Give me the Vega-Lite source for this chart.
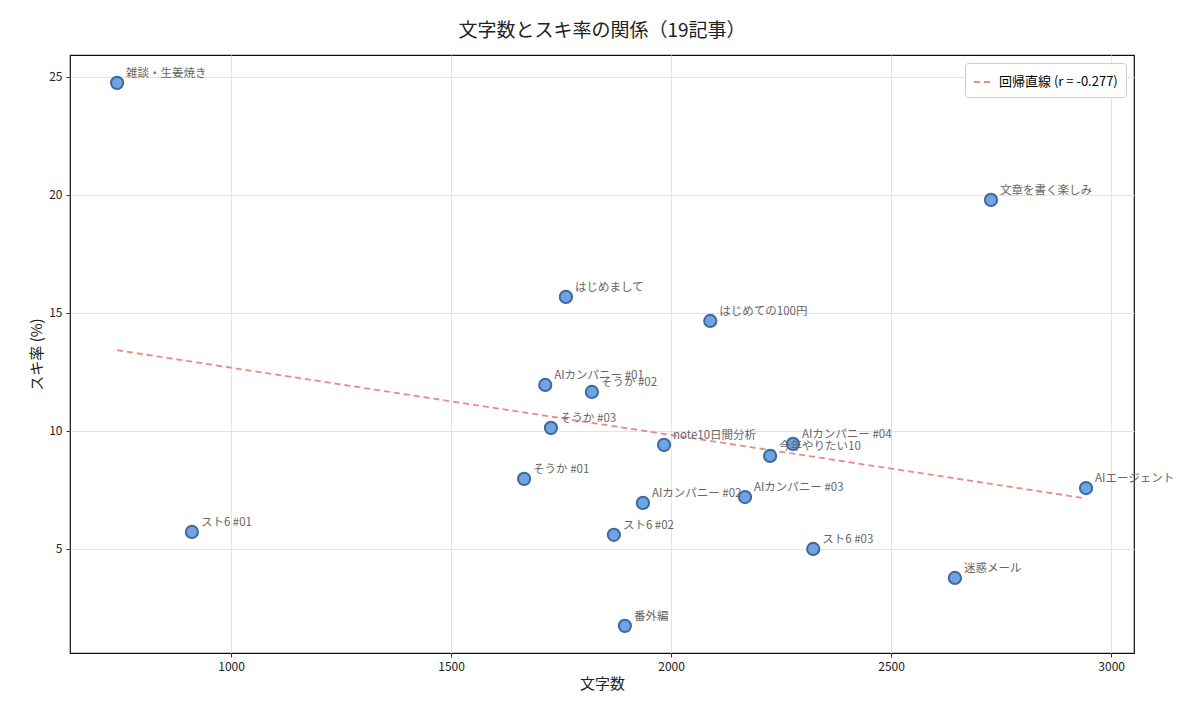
{
  "$schema": "https://vega.github.io/schema/vega-lite/v6.json",
  "width": 1064,
  "height": 598,
  "autosize": {"type": "none"},
  "padding": {"left": 70, "top": 55, "right": 66, "bottom": 65},
  "background": "white",
  "title": {"text": "文字数とスキ率の関係（19記事）", "fontSize": 19, "fontWeight": "normal", "font": "Noto Sans CJK JP", "offset": 14, "color": "#222"},
  "datasets": {
    "posts": [
      {"title": "雑談・生姜焼き", "chars": 741, "rate": 24.75},
      {"title": "スト6 #01", "chars": 911, "rate": 5.72},
      {"title": "そうか #01", "chars": 1666, "rate": 7.97},
      {"title": "AIカンパニー #01", "chars": 1714, "rate": 11.95},
      {"title": "そうか #03", "chars": 1727, "rate": 10.13},
      {"title": "はじめまして", "chars": 1761, "rate": 15.68},
      {"title": "そうか #02", "chars": 1820, "rate": 11.65},
      {"title": "スト6 #02", "chars": 1870, "rate": 5.6},
      {"title": "番外編", "chars": 1895, "rate": 1.74},
      {"title": "AIカンパニー #02", "chars": 1936, "rate": 6.95},
      {"title": "note10日間分析", "chars": 1984, "rate": 9.41},
      {"title": "はじめての100円", "chars": 2089, "rate": 14.66},
      {"title": "AIカンパニー #03", "chars": 2168, "rate": 7.2},
      {"title": "今年やりたい10", "chars": 2225, "rate": 8.94},
      {"title": "AIカンパニー #04", "chars": 2277, "rate": 9.45},
      {"title": "スト6 #03", "chars": 2323, "rate": 5.0},
      {"title": "迷惑メール", "chars": 2645, "rate": 3.77},
      {"title": "文章を書く楽しみ", "chars": 2727, "rate": 19.79},
      {"title": "AIエージェント", "chars": 2943, "rate": 7.58}
    ],
    "fit": [
      {"chars": 741, "rate": 13.42, "series": "回帰直線 (r = -0.277)"},
      {"chars": 2943, "rate": 7.14, "series": "回帰直線 (r = -0.277)"}
    ]
  },
  "encoding": {
    "x": {"field": "chars", "type": "quantitative", "title": "文字数",
      "scale": {"domain": [634, 3052], "nice": false, "zero": false},
      "axis": {"values": [1000, 1500, 2000, 2500, 3000], "format": "d"}},
    "y": {"field": "rate", "type": "quantitative", "title": "スキ率 (%)",
      "scale": {"domain": [0.59, 25.93], "nice": false, "zero": false},
      "axis": {"values": [5, 10, 15, 20, 25]}}
  },
  "layer": [
    {
      "data": {"name": "fit"},
      "mark": {"type": "line", "strokeDash": [6, 4], "strokeWidth": 1.8, "opacity": 0.85},
      "encoding": {
        "color": {"field": "series", "type": "nominal", "scale": {"range": ["#e8776a"]},
          "legend": {"title": null, "orient": "top-right", "offset": 8, "strokeColor": "#ccc", "fillColor": "white", "padding": 8, "cornerRadius": 3, "labelFontSize": 13, "labelFont": "Noto Sans CJK JP", "symbolType": "stroke", "symbolStrokeWidth": 1.8, "symbolDash": [6, 4], "symbolSize": 400}}
      }
    },
    {
      "data": {"name": "posts"},
      "mark": {"type": "point", "filled": true, "size": 150, "fill": "#6fa3e3", "stroke": "#3d6a9e", "strokeWidth": 2, "opacity": 1},
      "encoding": {}
    },
    {
      "data": {"name": "posts"},
      "mark": {"type": "text", "align": "left", "baseline": "bottom", "dx": 9, "dy": -4, "fontSize": 11.5, "color": "#666", "font": "Noto Sans CJK JP"},
      "encoding": {"text": {"field": "title"}}
    }
  ],
  "config": {
    "font": "Noto Sans CJK JP",
    "view": {"stroke": "#111", "strokeWidth": 1.2},
    "axis": {"grid": true, "gridColor": "#e3e3e3", "domain": false, "tickColor": "#333", "tickSize": 4, "labelFontSize": 12, "labelColor": "#222", "titleFontSize": 15, "titleFontWeight": "normal", "titleColor": "#222", "labelPadding": 4}
  }
}
